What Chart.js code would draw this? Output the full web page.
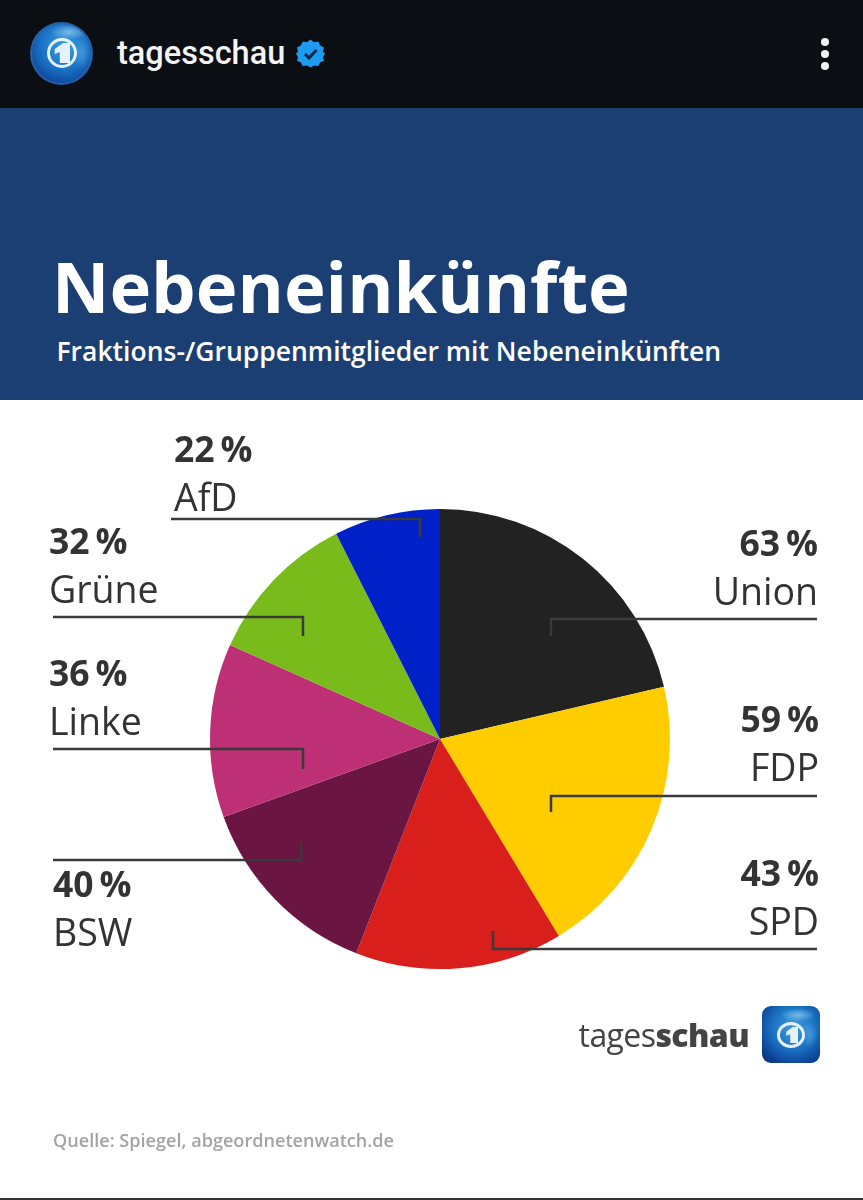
<!DOCTYPE html>
<html lang="de">
<head>
<meta charset="utf-8">
<title>Nebeneinkünfte</title>
<script src="https://cdn.jsdelivr.net/npm/chart.js@4/dist/chart.umd.min.js"></script>
<style>
  html, body { margin: 0; padding: 0; background: #fff; }
  #page { position: relative; width: 863px; height: 1200px; overflow: hidden; background: #fff; font-family: "Open Sans", sans-serif; }
  #chart { position: absolute; left: 0; top: 0; }
  #topbar { position: absolute; left: 0; top: 0; width: 863px; height: 108px; background: #0b0e13; }
  #account { position: absolute; left: 117px; top: 34px; font: 500 32.5px/38px Roboto, sans-serif; color: #f4f4f4; }
  .globe { position: absolute; overflow: hidden; background:
    radial-gradient(ellipse 30% 12% at 62% 16%, rgba(150,210,240,.7), rgba(150,210,240,0)),
    radial-gradient(ellipse 14% 24% at 82% 50%, rgba(90,170,225,.6), rgba(90,170,225,0)),
    radial-gradient(circle at 55% 38%, #3f9ede 0%, #1a72c4 45%, #0c3f94 80%, #0a2f70 100%); }
  .globe .ring { position: absolute; border-style: solid; border-color: #e6f2fa; border-radius: 50%; box-sizing: border-box; }
  .globe .one { position: absolute; background: #e6f2fa; clip-path: polygon(10% 30%, 60% 0, 100% 0, 100% 100%, 40% 100%, 40% 45%, 10% 55%); }
  #dots i { position: absolute; left: 821px; width: 8px; height: 8px; border-radius: 50%; background: #f4f4f4; }
  #banner { position: absolute; left: 0; top: 108px; width: 863px; height: 292px; background: #1c3f73; color: #fff; }
  #title { position: absolute; left: 52px; top: 128px; font-size: 70.6px; font-weight: 700; line-height: 100px; white-space: nowrap; }
  #subtitle { position: absolute; left: 56.5px; top: 225px; font-size: 26.5px; font-weight: 600; line-height: 36px; white-space: nowrap; }
  .lab { position: absolute; color: #333; white-space: nowrap; }
  .lab b { display: block; font-size: 35.5px; font-weight: 700; line-height: 48px; }
  .lab span { display: block; font-size: 37.5px; font-weight: 400; line-height: 50px; }
  .lab.r { text-align: right; }
  #brand { position: absolute; right: 114px; top: 1010px; font-size: 32px; line-height: 50px; color: #444; letter-spacing: -.6px; }
  #brand b { font-weight: 800; }
  #source { position: absolute; left: 53px; top: 1127px; font-size: 18.1px; font-weight: 600; line-height: 26px; color: #a3a3a3; }
  #foot { position: absolute; left: 0; top: 1198px; width: 863px; height: 2px; background: #333; }
</style>
</head>
<body>
<div id="page">
  <canvas id="chart" width="863" height="1200"></canvas>

  <div id="topbar">
    <div class="globe" style="left:30px;top:22px;width:63px;height:63px;border-radius:50%;box-shadow:inset 0 0 0 2px #2a5fa8">
      <div class="ring" style="left:17px;top:16px;width:30px;height:30px;border-width:3px"></div>
      <div class="one" style="left:23px;top:21px;width:17px;height:20px"></div>
    </div>
    <div id="account">tagesschau</div>
    <svg style="position:absolute;left:296px;top:39px" width="29" height="29" viewBox="0 0 29 29">
      <polygon fill="#1d9bf0" points="14.5,0.5 18,3.2 22.3,2.6 24.2,6.5 28,8.5 27,12.8 29,14.5 27,18.2 28,22 24.2,23.2 22.3,27 18,26.4 14.5,28.5 11,26.4 6.7,27 4.8,23.2 1,22 2,18.2 0,14.5 2,12.8 1,8.5 4.8,6.5 6.7,2.6 11,3.2"/>
      <polyline points="9,15 13,19 20.5,11" fill="none" stroke="#0b2a45" stroke-width="3"/>
    </svg>
    <div id="dots"><i style="top:38px"></i><i style="top:50px"></i><i style="top:62px"></i></div>
  </div>

  <div id="banner">
    <div id="title">Nebeneinkünfte</div>
    <div id="subtitle">Fraktions-/Gruppenmitglieder mit Nebeneinkünften</div>
  </div>

  <div id="brand">tages<b>schau</b></div>
  <div class="globe" style="left:762px;top:1006px;width:58px;height:57px;border-radius:9px">
    <div class="ring" style="left:15px;top:16px;width:28px;height:26px;border-width:3px"></div>
    <div class="one" style="left:23px;top:21px;width:13px;height:16px"></div>
  </div>
  <div id="source">Quelle: Spiegel, abgeordnetenwatch.de</div>
  <div id="foot"></div>
</div>

<script>
// Daten
const parties = ['Union', 'FDP', 'SPD', 'BSW', 'Linke', 'Grüne', 'AfD'];
const shares = [63, 59, 43, 40, 36, 32, 22];
const partyColors = ['#222222', '#ffcc00', '#d91f1c', '#6b1642', '#bd3075', '#78bb1b', '#0021c8'];

// Beschriftung: Position der Texte und Hinweislinien, Reihenfolge wie parties
// line = [x am Textende, y der Linie, x der Ecke, y am Ende im Segment]
const labelPos = [
  { right: 45, top: 518, line: [817, 619, 551, 636] },
  { right: 44, top: 694, line: [817, 796, 551, 812] },
  { right: 44, top: 848, line: [817, 949, 493, 931] },
  { left: 53, top: 859, line: [53, 860, 301, 843] },
  { left: 49, top: 648, line: [53, 749, 303, 769] },
  { left: 49, top: 516, line: [53, 617, 303, 636] },
  { left: 174, top: 424, line: [171, 519, 420, 537] }
];

const page = document.getElementById('page');
parties.forEach((name, i) => {
  const p = labelPos[i];
  const el = document.createElement('div');
  el.className = 'lab' + (p.right !== undefined ? ' r' : '');
  if (p.right !== undefined) el.style.right = p.right + 'px';
  else el.style.left = p.left + 'px';
  el.style.top = p.top + 'px';
  el.innerHTML = '<b>' + shares[i] + '\u2009%</b><span>' + name + '</span>';
  page.appendChild(el);
});

// Hinweislinien ueber dem Kreis
const leaderLines = {
  id: 'leaderLines',
  afterDraw(chart) {
    const ctx = chart.ctx;
    ctx.save();
    ctx.strokeStyle = '#3a3a3a';
    ctx.lineWidth = 2.5;
    labelPos.forEach(p => {
      const [x1, y1, x2, y2] = p.line;
      ctx.beginPath();
      ctx.moveTo(x1, y1);
      ctx.lineTo(x2, y1);
      ctx.lineTo(x2, y2);
      ctx.stroke();
    });
    ctx.restore();
  }
};

new Chart(document.getElementById('chart'), {
  type: 'pie',
  data: {
    labels: parties,
    datasets: [{
      data: shares,
      backgroundColor: partyColors,
      borderWidth: 0
    }]
  },
  options: {
    responsive: false,
    animation: false,
    layout: { padding: { left: 210, right: 193, top: 509, bottom: 231 } },
    plugins: { legend: { display: false }, tooltip: { enabled: false } }
  },
  plugins: [leaderLines]
});
</script>
</body>
</html>
